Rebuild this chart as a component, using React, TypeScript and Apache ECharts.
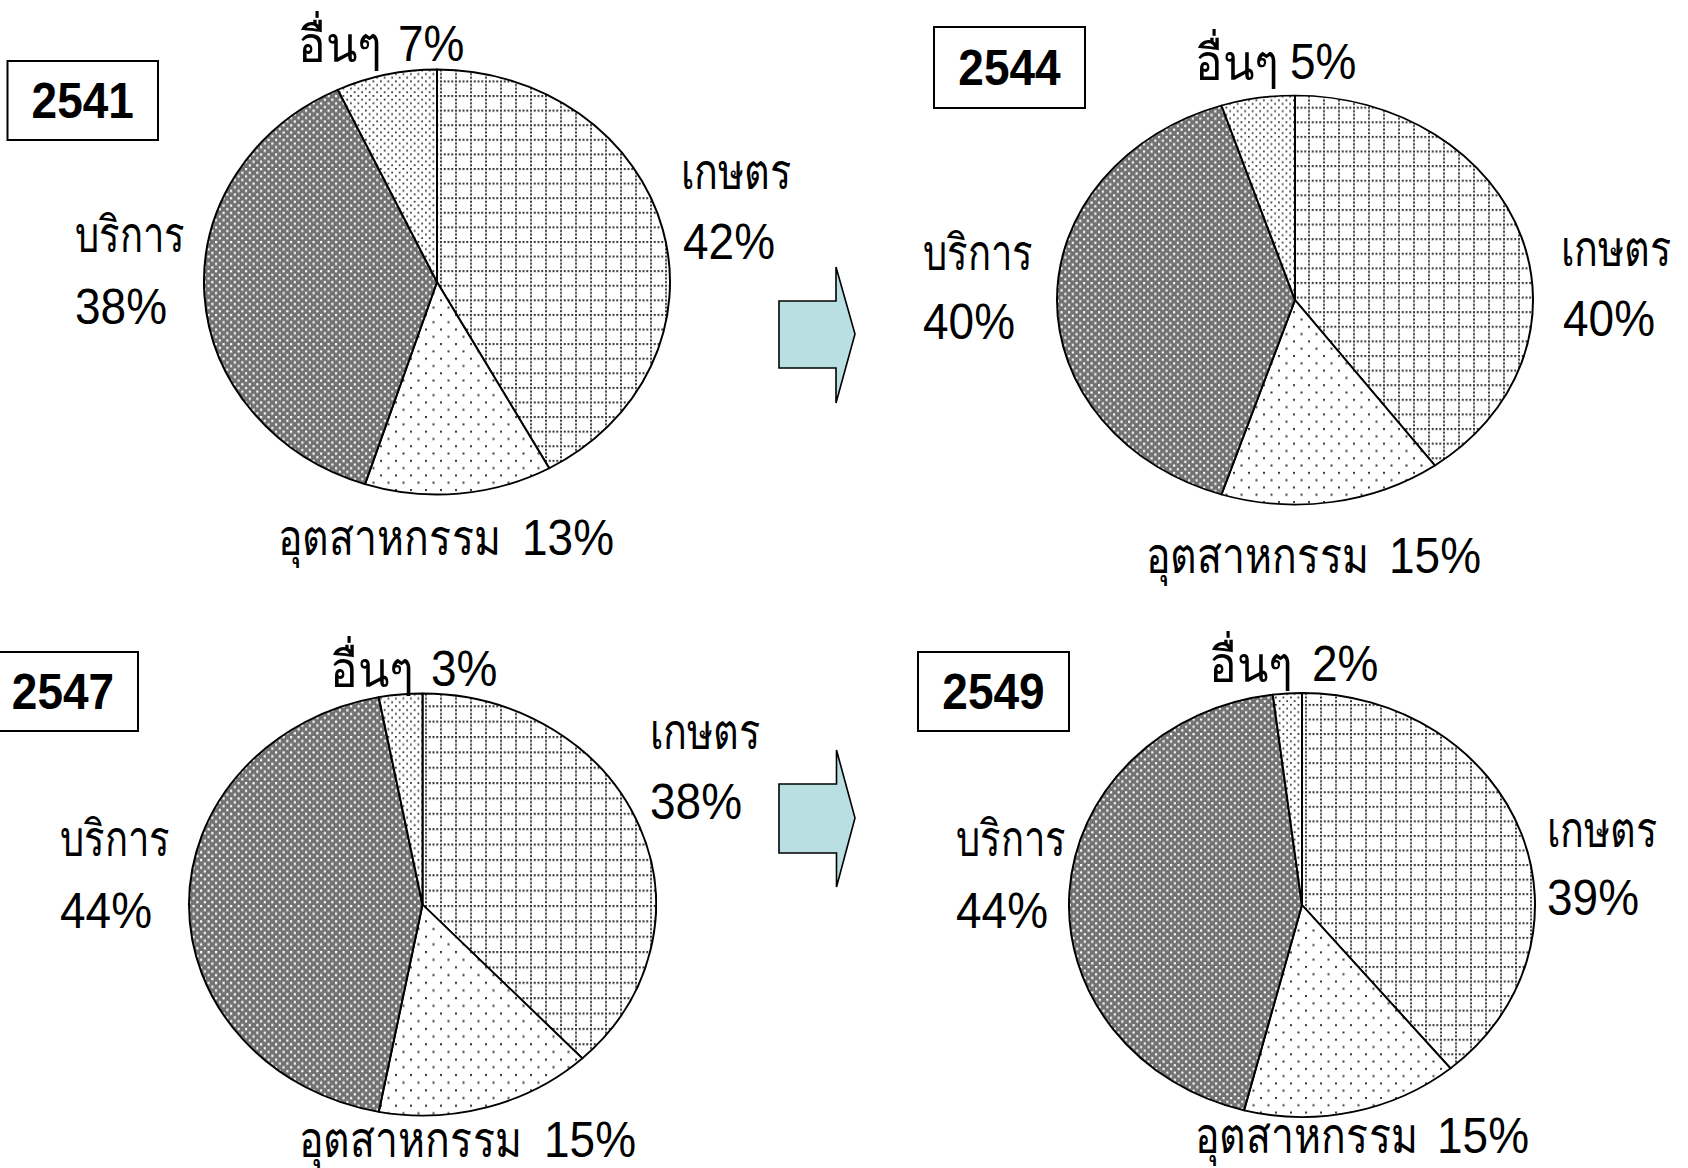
import React, { useEffect, useRef } from "react";
import * as echarts from "echarts";

// ---------- data ----------
const years = ["2541", "2544", "2547", "2549"];
const categories = ["เกษตร", "อุตสาหกรรม", "บริการ", "อื่นๆ"];
const agriculture = [42, 40, 38, 39];
const industry = [13, 15, 15, 15];
const services = [38, 40, 44, 44];
const others = [7, 5, 3, 2];
const seriesValues = [agriculture, industry, services, others];

// ---------- layout (positions only) ----------
type Layout = {
  cx: number; cy: number; rx: number; ry: number;
  box: [number, number, number, number];
  oth: [number, number, number];
  agr: [number, number, number, number];
  ser: [number, number, number, number];
  ind: [number, number, number];
};
const layouts: Layout[] = [
  { cx: 437, cy: 281.5, rx: 233, ry: 212.5, box: [7.5, 61, 150.5, 79], oth: [298, 398, 44], agr: [681, 172, 683, 242], ser: [75, 235, 75, 307], ind: [278, 522, 538] },
  { cx: 1294.5, cy: 299.5, rx: 238, ry: 204.5, box: [934, 27, 151, 81], oth: [1195, 1290, 62], agr: [1561, 249, 1563, 319], ser: [923, 253, 923, 322], ind: [1146, 1389, 556] },
  { cx: 422, cy: 904, rx: 233.5, ry: 211, box: [-12, 652, 150, 79], oth: [330, 431, 669], agr: [650, 732, 650, 802], ser: [60, 839, 60, 911], ind: [299, 544, 1140] },
  { cx: 1302, cy: 904.5, rx: 233, ry: 212, box: [918, 652, 151, 79], oth: [1209, 1312, 664], agr: [1547, 830, 1547, 898], ser: [956, 839, 956, 911], ind: [1195, 1437, 1136] },
];
const arrows = [
  [[779, 301], [836, 301], [836, 267], [855, 334], [836, 403], [836, 368], [779, 368]],
  [[779, 784], [836.5, 784], [836.5, 750], [855, 818], [836.5, 887], [836.5, 853], [779, 853]],
];
const thaiWidths = [110, 222, 110, 84]; // target widths per category label

const NUM_FONT = "'Liberation Sans', Arial, sans-serif";
const TH_FONT = "'Liberation Sans', Arial, sans-serif";
const NUM_SIZE = 50;
const NUM_SCALE = 0.92;
const TH_SIZE = 50;

// ---------- patterns ----------
function makeTile(ratio: number, bg: string, draw: (ctx: CanvasRenderingContext2D) => void) {
  const w = 15;
  const h = Math.round(15 / ratio);
  const c = document.createElement("canvas");
  c.width = w;
  c.height = h;
  const ctx = c.getContext("2d") as CanvasRenderingContext2D;
  ctx.scale(1, h / 15);
  ctx.fillStyle = bg;
  ctx.fillRect(0, 0, 15, 15);
  draw(ctx);
  return { image: c, repeat: "repeat", imageWidth: w, imageHeight: h } as any;
}
const stagger = [[0, 0], [7.5, 0], [3.75, 3.75], [11.25, 3.75], [0, 7.5], [7.5, 7.5], [3.75, 11.25], [11.25, 11.25]];
const patternMakers = [
  (r: number) => makeTile(r, "#ffffff", (ctx) => {
    ctx.fillStyle = "#333333";
    for (let k = 0; k < 4; k++) {
      ctx.fillRect(k * 3.75, 0, 2, 2);
      ctx.fillRect(0, k * 3.75, 2, 2);
    }
  }),
  (r: number) => makeTile(r, "#ffffff", (ctx) => {
    ctx.fillStyle = "#333333";
    ctx.fillRect(0, 0, 2, 2);
    ctx.fillRect(7.5, 7.5, 2, 2);
  }),
  (r: number) => makeTile(r, "#727272", (ctx) => {
    ctx.fillStyle = "#ffffff";
    stagger.forEach(([x, y]) => ctx.fillRect(x, y, 2.2, 2.2));
  }),
  (r: number) => makeTile(r, "#ffffff", (ctx) => {
    ctx.fillStyle = "#3a3a3a";
    stagger.forEach(([x, y]) => ctx.fillRect(x, y, 1.8, 1.8));
  }),
];

function measure(text: string, font: string) {
  const c = document.createElement("canvas").getContext("2d") as CanvasRenderingContext2D;
  c.font = font;
  return c.measureText(text).width;
}

function numText(x: number, y: number, text: string, bold = false, align = "left") {
  return {
    type: "text", x, y, scaleX: NUM_SCALE, silent: true,
    style: {
      x: 0, y: 0, text, fill: "#000", textAlign: align, textVerticalAlign: "middle",
      fontFamily: NUM_FONT, fontSize: NUM_SIZE, fontWeight: bold ? "bold" : "normal",
    },
  };
}
function thText(x: number, y: number, text: string, target: number) {
  const w = measure(text, `${TH_SIZE}px ${TH_FONT}`);
  const s = w > 0 ? target / w : 1;
  return {
    type: "text", x, y, scaleX: s, silent: true,
    style: {
      x: 0, y: 0, text, fill: "#000", textAlign: "left", textVerticalAlign: "middle",
      fontFamily: TH_FONT, fontSize: TH_SIZE,
    },
  };
}

export default function App() {
  const overlayRef = useRef<HTMLDivElement>(null);
  const p0 = useRef<HTMLDivElement>(null);
  const p1 = useRef<HTMLDivElement>(null);
  const p2 = useRef<HTMLDivElement>(null);
  const p3 = useRef<HTMLDivElement>(null);
  const pieRefs = [p0, p1, p2, p3];

  useEffect(() => {
    const instances: echarts.ECharts[] = [];
    layouts.forEach((L, i) => {
      const el = pieRefs[i].current;
      if (!el) return;
      const chart = echarts.init(el, null, { renderer: "svg" });
      const ratio = L.ry / L.rx;
      chart.setOption({
        animation: false,
        series: [
          {
            type: "pie",
            center: ["50%", "50%"],
            radius: L.rx,
            startAngle: 90,
            clockwise: true,
            silent: true,
            avoidLabelOverlap: false,
            label: { show: false },
            labelLine: { show: false },
            emphasis: { disabled: true },
            itemStyle: { borderColor: "#000", borderWidth: 2 },
            data: categories.map((name, k) => ({
              name,
              value: seriesValues[k][i],
              itemStyle: { color: patternMakers[k](ratio) },
            })),
          },
        ],
      });
      instances.push(chart);
    });

    const ov = overlayRef.current;
    if (ov) {
      const chart = echarts.init(ov, null, { renderer: "svg" });
      const elements: any[] = [];
      layouts.forEach((L, i) => {
        const [bx, by, bw, bh] = L.box;
        elements.push({
          type: "rect", silent: true,
          shape: { x: bx, y: by, width: bw, height: bh },
          style: { fill: "#fff", stroke: "#000", lineWidth: 2 },
        });
        elements.push(numText(bx + bw / 2, by + bh / 2, years[i], true, "center"));
        elements.push(thText(L.oth[0], L.oth[2], categories[3], thaiWidths[3]));
        elements.push(numText(L.oth[1], L.oth[2], `${others[i]}%`));
        elements.push(thText(L.agr[0], L.agr[1], categories[0], thaiWidths[0]));
        elements.push(numText(L.agr[2], L.agr[3], `${agriculture[i]}%`));
        elements.push(thText(L.ser[0], L.ser[1], categories[2], thaiWidths[2]));
        elements.push(numText(L.ser[2], L.ser[3], `${services[i]}%`));
        elements.push(thText(L.ind[0], L.ind[2], categories[1], thaiWidths[1]));
        elements.push(numText(L.ind[1], L.ind[2], `${industry[i]}%`));
      });
      arrows.forEach((pts) => {
        elements.push({
          type: "polygon", silent: true,
          shape: { points: pts },
          style: { fill: "#b9dfe2", stroke: "#000", lineWidth: 1.6 },
        });
      });
      chart.setOption({ animation: false, graphic: { elements } });
      instances.push(chart);
    }
    return () => instances.forEach((c) => c.dispose());
  }, []);

  return (
    <div style={{ position: "fixed", left: 0, top: 0, width: 1688, height: 1168, background: "#fff", overflow: "hidden" }}>
      {layouts.map((L, i) => {
        const S = Math.ceil(2 * L.rx + 8);
        return (
          <div
            key={i}
            ref={pieRefs[i]}
            style={{
              position: "absolute",
              left: L.cx - S / 2,
              top: L.cy - S / 2,
              width: S,
              height: S,
              transform: `scaleY(${L.ry / L.rx})`,
              transformOrigin: "50% 50%",
            }}
          />
        );
      })}
      <div
        ref={overlayRef}
        style={{ position: "absolute", left: 0, top: 0, width: 1688, height: 1168, zIndex: 2, pointerEvents: "none" }}
      />
    </div>
  );
}
